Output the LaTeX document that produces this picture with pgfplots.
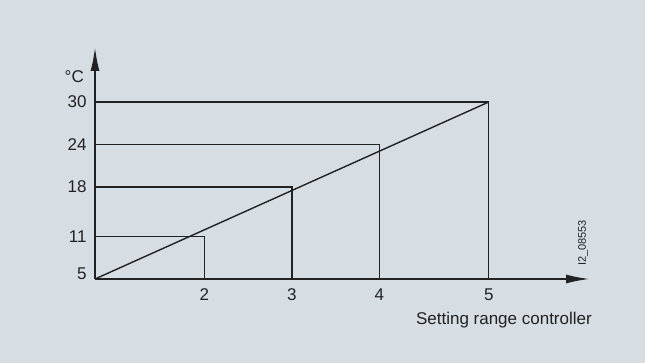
\documentclass[border=0pt]{standalone}
\usepackage{fontspec}
\setmainfont{Liberation Sans}
\usepackage{pgfplots}
\pgfplotsset{compat=1.18}
\usetikzlibrary{arrows.meta}
\definecolor{bg}{RGB}{214,221,227}
\definecolor{ink}{RGB}{34,34,34}
\begin{document}
\begin{tikzpicture}[x=1pt,y=1pt]
\fill[bg] (0,0) rectangle (645,363);
\begin{axis}[
  at={(95pt,84pt)}, anchor=south west,
  scale only axis, width=495pt, height=232pt,
  xmin=0.75, xmax=6.407, ymin=5, ymax=37.77,
  axis lines=left,
  axis line style={ink, line width=2pt, -{Latex[length=24pt,width=9pt]}},
  xtick={2,3,4,5.25}, xticklabels={2,3,4,5},
  ytick={5.8,11,18,24,30}, yticklabels={5,11,18,24,30},
  major tick length=0pt,
  tick style={draw=none},
  /pgf/number format/assume math mode=true,
  tick label style={font=\fontsize{17}{20}\selectfont, text=ink},
  xticklabel style={yshift=-6pt},
  yticklabel style={xshift=-5pt},
  clip=false,
]
\addplot[ink, line width=1.4pt] coordinates {(0.75,11) (2,11) (2,5)};
\addplot[ink, line width=1.4pt] coordinates {(0.75,18) (3,18) (3,5)};
\addplot[ink, line width=1.4pt] coordinates {(0.75,24) (4,24) (4,5)};
\addplot[ink, line width=1.4pt] coordinates {(0.75,30) (5.25,30) (5.25,5)};
\addplot[ink, line width=1.4pt] coordinates {(0.75,5) (5.25,30)};
\end{axis}
\node[anchor=east, inner sep=0pt, text=ink, font=\fontsize{17}{20}\selectfont] at (84,286.5) {°C};
\node[anchor=base east, inner sep=0pt, text=ink, font=\fontsize{17}{20}\selectfont] at (592,38) {Setting range controller};
\node[rotate=90, inner sep=0pt, text=ink, font=\fontsize{11}{13}\selectfont] at (583,120) {I2\_08553};
\end{tikzpicture}
\end{document}
